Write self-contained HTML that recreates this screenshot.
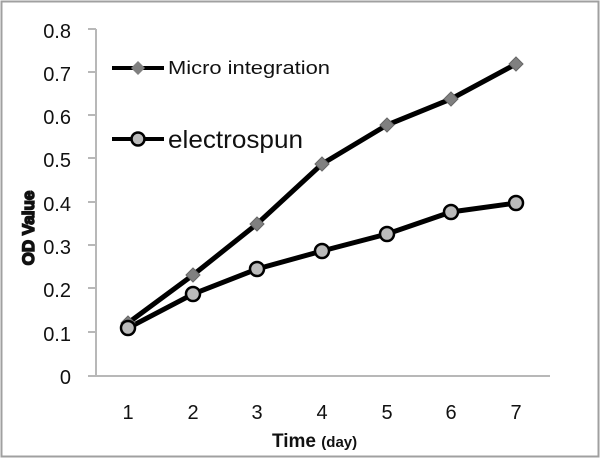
<!DOCTYPE html>
<html><head><style>body{margin:0;background:#fff}</style></head><body>
<svg width="600" height="458" xmlns="http://www.w3.org/2000/svg" font-family="Liberation Sans, sans-serif">
<rect x="1.5" y="1.5" width="597" height="455" fill="#fff" stroke="#a0a0a0" stroke-width="2"/>
<g stroke="#b8b8b8" stroke-width="2" fill="none">
<line x1="96" y1="29" x2="96" y2="376"/>
<line x1="88" y1="376" x2="550" y2="376"/>
<line x1="88" y1="29" x2="96" y2="29"/><line x1="88" y1="72" x2="96" y2="72"/><line x1="88" y1="115" x2="96" y2="115"/><line x1="88" y1="158" x2="96" y2="158"/><line x1="88" y1="202" x2="96" y2="202"/><line x1="88" y1="245" x2="96" y2="245"/><line x1="88" y1="288" x2="96" y2="288"/><line x1="88" y1="332" x2="96" y2="332"/>
</g>
<g font-size="20" fill="#111" text-anchor="end">
<text x="71" y="38">0.8</text><text x="71" y="81">0.7</text><text x="71" y="124">0.6</text><text x="71" y="167">0.5</text><text x="71" y="211">0.4</text><text x="71" y="254">0.3</text><text x="71" y="297">0.2</text><text x="71" y="341">0.1</text><text x="71" y="384">0</text>
</g>
<g font-size="20" fill="#111" text-anchor="middle">
<text x="128" y="419">1</text><text x="193" y="419">2</text><text x="257" y="419">3</text><text x="322" y="419">4</text><text x="387" y="419">5</text><text x="451" y="419">6</text><text x="516" y="419">7</text>
</g>
<text x="272" y="447" font-size="19" font-weight="bold" fill="#111">Time <tspan font-size="15">(day)</tspan></text>
<text transform="translate(34,228) rotate(-90)" text-anchor="middle" font-size="17" font-weight="bold" fill="#111" stroke="#111" stroke-width="1.5">OD Value</text>
<polyline points="128,323 193,275 257,224 322,164 387,125 451,99 516,64" fill="none" stroke="#000" stroke-width="5"/>
<polyline points="128,328 193,294 257,269 322,251 387,234 451,212 516,203" fill="none" stroke="#000" stroke-width="5"/>
<g fill="#808080" stroke="#666" stroke-width="1">
<path d="M128,316 l7,7 -7,7 -7,-7z"/><path d="M193,268 l7,7 -7,7 -7,-7z"/><path d="M257,217 l7,7 -7,7 -7,-7z"/><path d="M322,157 l7,7 -7,7 -7,-7z"/><path d="M387,118 l7,7 -7,7 -7,-7z"/><path d="M451,92 l7,7 -7,7 -7,-7z"/><path d="M516,57 l7,7 -7,7 -7,-7z"/>
</g>
<g fill="#bbb" stroke="#000" stroke-width="2.5">
<circle cx="128" cy="328" r="7"/><circle cx="193" cy="294" r="7"/><circle cx="257" cy="269" r="7"/><circle cx="322" cy="251" r="7"/><circle cx="387" cy="234" r="7"/><circle cx="451" cy="212" r="7"/><circle cx="516" cy="203" r="7"/>
</g>
<line x1="112" y1="68" x2="164" y2="68" stroke="#000" stroke-width="4"/>
<path d="M138,61 l7,7 -7,7 -7,-7z" fill="#808080"/>
<text x="168" y="74" font-size="18" fill="#111" textLength="162" lengthAdjust="spacingAndGlyphs">Micro integration</text>
<line x1="112" y1="139" x2="164" y2="139" stroke="#000" stroke-width="4"/>
<circle cx="138" cy="139" r="6.5" fill="#bbb" stroke="#000" stroke-width="2.5"/>
<text x="168" y="148" font-size="25" fill="#111" textLength="135" lengthAdjust="spacingAndGlyphs">electrospun</text>
</svg>
</body></html>
